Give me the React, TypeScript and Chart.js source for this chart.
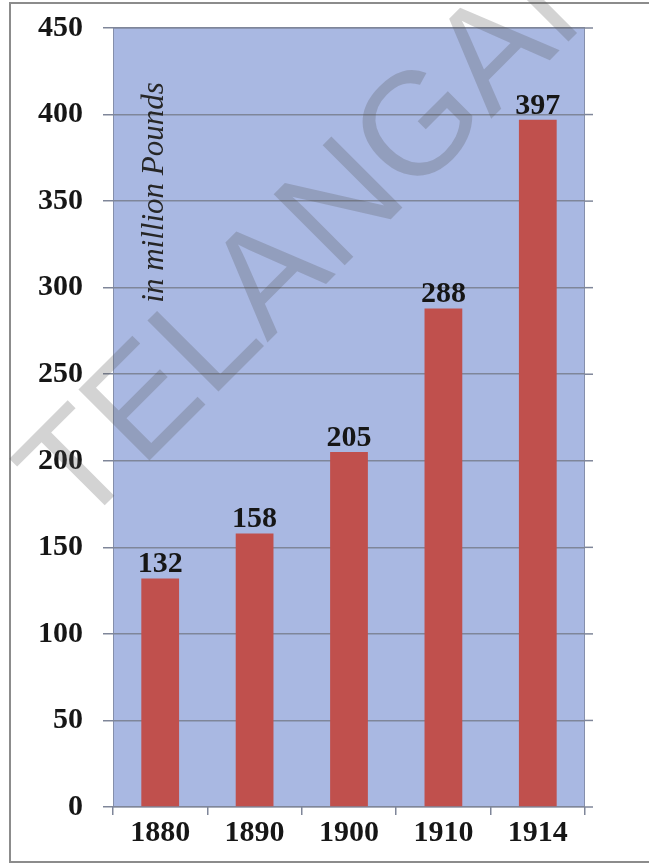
import React, { useEffect, useRef } from 'react';
import { Chart, registerables } from 'chart.js';

Chart.register(...registerables);

const years = ['1880', '1890', '1900', '1910', '1914'];
const exportValues = [132, 158, 205, 288, 397];
const yMin = 0;
const yMax = 450;
const yStep = 50;
const axisTitle = 'in million Pounds';
const watermarkText = 'TELANGANA';

const PLOT_BG = '#a9b8e2';
const BAR_COLOR = '#c0504d';
const GRID_COLOR = '#7f8699';
const TEXT_COLOR = '#161616';

const framePlugin = {
  id: 'framePlugin',
  beforeDraw(chart: any) {
    const { ctx, chartArea } = chart;
    ctx.save();
    ctx.fillStyle = '#ffffff';
    ctx.fillRect(0, 0, chart.width, chart.height);
    ctx.strokeStyle = '#8c8c8c';
    ctx.lineWidth = 2;
    ctx.strokeRect(10, 3, chart.width + 20, 859);
    ctx.fillStyle = PLOT_BG;
    ctx.fillRect(chartArea.left, chartArea.top, chartArea.right - chartArea.left, chartArea.bottom - chartArea.top);
    ctx.strokeStyle = 'rgba(110,115,135,0.6)';
    ctx.lineWidth = 1;
    ctx.strokeRect(chartArea.left + 0.5, chartArea.top, chartArea.right - chartArea.left - 1, chartArea.bottom - chartArea.top);
    ctx.restore();
  },
};

const gridExtPlugin = {
  id: 'gridExtPlugin',
  beforeDatasetsDraw(chart: any) {
    const { ctx, chartArea } = chart;
    const yScale = chart.scales.y;
    ctx.save();
    ctx.strokeStyle = GRID_COLOR;
    ctx.lineWidth = 1.5;
    yScale.ticks.forEach((t: any) => {
      const y = yScale.getPixelForValue(t.value);
      ctx.beginPath();
      ctx.moveTo(chartArea.right, y);
      ctx.lineTo(chartArea.right + 8, y);
      ctx.stroke();
    });
    ctx.restore();
  },
};

const barLabelPlugin = {
  id: 'barLabelPlugin',
  afterDatasetsDraw(chart: any) {
    const { ctx } = chart;
    const meta = chart.getDatasetMeta(0);
    ctx.save();
    ctx.fillStyle = TEXT_COLOR;
    ctx.font = 'bold 30px "Liberation Serif", serif';
    ctx.textAlign = 'center';
    ctx.textBaseline = 'alphabetic';
    meta.data.forEach((bar: any, i: number) => {
      ctx.fillText(String(exportValues[i]), bar.x, bar.y - 6);
    });
    ctx.restore();
  },
};

const titlePlugin = {
  id: 'titlePlugin',
  afterDatasetsDraw(chart: any) {
    const { ctx } = chart;
    const yScale = chart.scales.y;
    const yc = (yScale.getPixelForValue(290) + yScale.getPixelForValue(420)) / 2;
    ctx.save();
    ctx.translate(chart.chartArea.left + 50, yc);
    ctx.rotate(-Math.PI / 2);
    ctx.fillStyle = '#262626';
    ctx.font = 'italic 31px "Liberation Serif", serif';
    ctx.textAlign = 'center';
    ctx.textBaseline = 'alphabetic';
    ctx.fillText(axisTitle, 0, 0);
    ctx.restore();
  },
};

const watermarkPlugin = {
  id: 'watermarkPlugin',
  afterDraw(chart: any) {
    const { ctx } = chart;
    ctx.save();
    ctx.translate(78, 532);
    ctx.rotate(-Math.PI / 4);
    ctx.fillStyle = 'rgba(80,80,80,0.25)';
    ctx.font = '146px "Liberation Sans", Arial, sans-serif';
    ctx.textAlign = 'left';
    ctx.textBaseline = 'alphabetic';
    ctx.fillText(watermarkText, 0, 0);
    ctx.restore();
  },
};

export default function App() {
  const canvasRef = useRef<HTMLCanvasElement | null>(null);

  useEffect(() => {
    const canvas = canvasRef.current;
    if (!canvas) return;
    const chart = new Chart(canvas, {
      type: 'bar',
      data: {
        labels: years,
        datasets: [
          {
            data: exportValues,
            backgroundColor: BAR_COLOR,
            borderWidth: 0,
            barPercentage: 0.5,
            categoryPercentage: 0.8,
          },
        ],
      },
      options: {
        responsive: false,
        animation: false,
        devicePixelRatio: 1,
        layout: { padding: { left: 0, right: 64, top: 28, bottom: 0 } },
        plugins: {
          legend: { display: false },
          tooltip: { enabled: false },
          title: { display: false },
        },
        scales: {
          x: {
            grid: {
              display: true,
              drawOnChartArea: false,
              drawTicks: true,
              tickLength: 8,
              color: GRID_COLOR,
              lineWidth: 1.5,
              offset: true,
            },
            border: { display: false },
            ticks: {
              color: TEXT_COLOR,
              font: { family: '"Liberation Serif", serif', size: 30, weight: 'bold' },
              padding: 0,
              maxRotation: 0,
              autoSkip: false,
            },
            afterFit(scale: any) {
              scale.height = 59;
            },
          },
          y: {
            min: yMin,
            max: yMax,
            ticks: {
              stepSize: yStep,
              color: TEXT_COLOR,
              font: { family: '"Liberation Serif", serif', size: 30, weight: 'bold', lineHeight: 0.4 },
              padding: 20,
            },
            grid: {
              color: GRID_COLOR,
              lineWidth: 1.5,
              tickLength: 10,
              drawTicks: true,
            },
            border: { display: false },
            afterFit(scale: any) {
              scale.width = 113;
            },
          },
        },
      },
      plugins: [framePlugin, gridExtPlugin, barLabelPlugin, titlePlugin, watermarkPlugin],
    } as any);
    return () => chart.destroy();
  }, []);

  return (
    <div style={{ position: 'absolute', left: 0, top: 0, width: 649, height: 866, background: '#fff' }}>
      <canvas ref={canvasRef} width={649} height={866} style={{ display: 'block', width: 649, height: 866 }} />
    </div>
  );
}
